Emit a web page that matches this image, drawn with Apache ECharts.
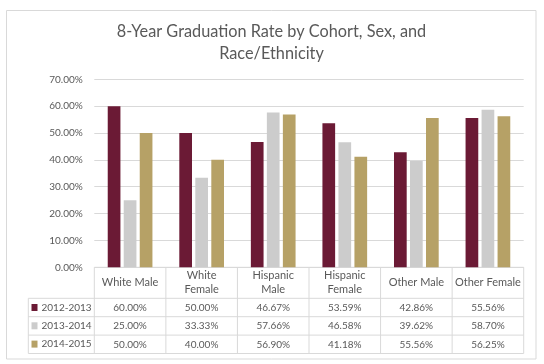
<!DOCTYPE html>
<html><head><meta charset="utf-8">
<script src="https://cdn.jsdelivr.net/npm/echarts@6/dist/echarts.min.js"></script>
<style>html,body{margin:0;padding:0;background:#fff}#c{width:544px;height:364px}</style>
</head><body><div id="c"></div>
<script>
const titleText = '8-Year Graduation Rate by Cohort, Sex, and\nRace/Ethnicity';
const categories = ['White Male', 'White\nFemale', 'Hispanic\nMale', 'Hispanic\nFemale', 'Other Male', 'Other Female'];
const seriesNames = ['2012-2013', '2013-2014', '2014-2015'];
const s2012 = [60.00, 50.00, 46.67, 53.59, 42.86, 55.56];
const s2013 = [25.00, 33.33, 57.66, 46.58, 39.62, 58.70];
const s2014 = [50.00, 40.00, 56.90, 41.18, 55.56, 56.25];
const yMin = 0, yMax = 70, yStep = 10;
const colors = ['#6B1A35', '#CCCCCC', '#B6A166'];
const FONT = 'Lato';
const TXT = '#595959';
const LINE = '#D9D9D9';

const seriesData = [s2012, s2013, s2014];
const chart = echarts.init(document.getElementById('c'));
const option = {
  animation: false,
  color: colors,
  title: {
    text: titleText, left: 271.5, top: 21, textAlign: 'center', padding: 0,
    textStyle: {fontFamily: FONT, fontSize: 16.3, fontWeight: 'normal', color: TXT, lineHeight: 21.6}
  },
  legend: {
    orient: 'vertical', left: 31.5, top: 301.5, padding: 0,
    itemWidth: 6, itemHeight: 7, itemGap: 6.3,
    icon: 'rect',
    textStyle: {fontFamily: FONT, fontSize: 10, color: TXT, lineHeight: 12, padding: [0, 0, 0, -1]},
    data: seriesNames
  },
  grid: {left: 94.3, right: 20.3, top: 79.3, bottom: 96.7},
  xAxis: {
    type: 'category', data: categories,
    axisLine: {show: false}, axisTick: {show: false},
    axisLabel: {margin: 15.3, verticalAlign: 'middle', fontFamily: FONT, fontSize: 11, color: TXT, lineHeight: 14, interval: 0}
  },
  yAxis: {
    type: 'value', min: yMin, max: yMax, interval: yStep,
    axisLine: {show: false}, axisTick: {show: false},
    splitLine: {lineStyle: {color: LINE}},
    axisLabel: {margin: 11.5, fontFamily: FONT, fontSize: 10, color: TXT, formatter: v => v.toFixed(2) + '%'}
  },
  series: seriesNames.map((n, i) => ({
    name: n, type: 'bar', data: seriesData[i], barWidth: 12.7, barGap: '26%'
  }))
};
chart.setOption(option);

// Data table under the plot, built from the same arrays
const g = [];
const x0 = chart.convertToPixel({xAxisIndex: 0}, categories[0]);
const x1 = chart.convertToPixel({xAxisIndex: 0}, categories[1]);
const cw = x1 - x0;
const tableTop = chart.convertToPixel({yAxisIndex: 0}, yMin);
const headerH = 31;
const rowH = 18.4;
const legendLeft = 28.3;
const left = x0 - cw / 2;
const right = x0 + cw * (categories.length - 0.5);
const bottom = tableTop + headerH + rowH * seriesNames.length;
const ls = {stroke: LINE, lineWidth: 1};
g.push({type: 'rect', shape: {x: 6.5, y: 10.5, width: 529.5, height: 348.5}, style: {fill: null, stroke: LINE, lineWidth: 1}, silent: true, z: -1});
g.push({type: 'line', shape: {x1: left, y1: tableTop, x2: right, y2: tableTop}, style: ls});
for (let r = 0; r <= seriesNames.length; r++) {
  const y = tableTop + headerH + r * rowH;
  g.push({type: 'line', shape: {x1: legendLeft, y1: y, x2: right, y2: y}, style: ls});
}
g.push({type: 'line', shape: {x1: legendLeft, y1: tableTop + headerH, x2: legendLeft, y2: bottom}, style: ls});
for (let c = 0; c <= categories.length; c++) {
  const x = left + c * cw;
  g.push({type: 'line', shape: {x1: x, y1: tableTop, x2: x, y2: bottom}, style: ls});
}
seriesData.forEach((arr, r) => {
  arr.forEach((v, c) => {
    g.push({type: 'text', x: chart.convertToPixel({xAxisIndex: 0}, categories[c]), y: tableTop + headerH + (r + 0.5) * rowH,
      style: {text: v.toFixed(2) + '%', fontFamily: FONT, fontSize: 10, fill: TXT, align: 'center', verticalAlign: 'middle'}});
  });
});
chart.setOption({graphic: g});
</script></body></html>
